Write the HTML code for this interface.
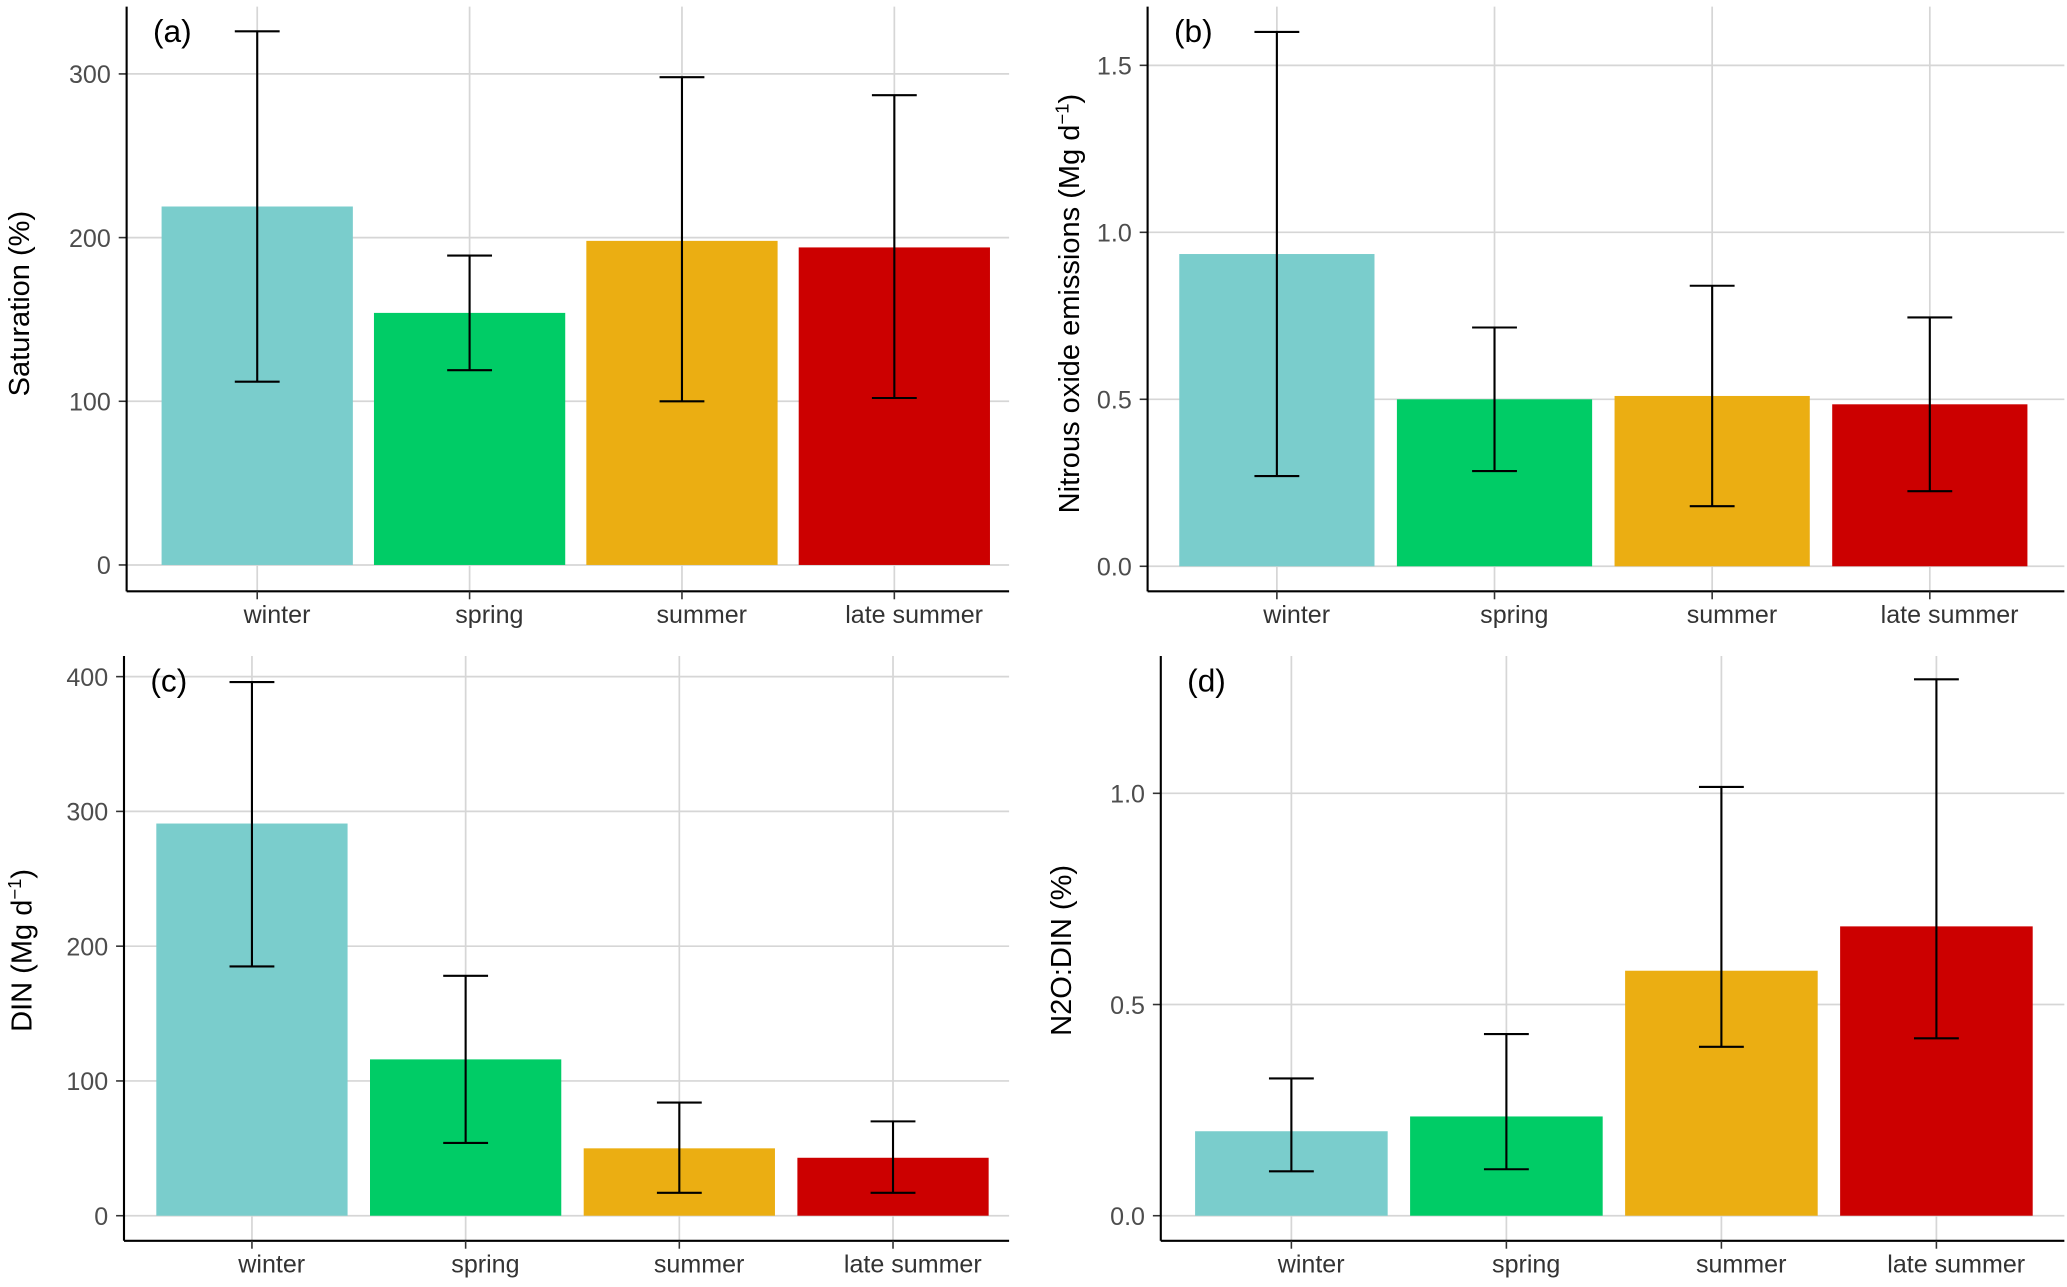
<!DOCTYPE html>
<html><head><meta charset="utf-8"><style>
html,body{margin:0;padding:0;background:#fff}
svg{display:block}
text{font-family:"Liberation Sans",sans-serif}
</style></head><body>
<svg id="chart" width="2067" height="1287" viewBox="0 0 1567 975" preserveAspectRatio="none" xmlns="http://www.w3.org/2000/svg"></svg>
<script>
const categories = ["winter","spring","summer","late summer"];
const colors = ["#7ACDCC","#00CC66","#EBAE12","#CC0000"];
const satMean = [219,154,198,194];
const satLo = [112,119,100,102];
const satHi = [326,189,298,287];
const n2oMean = [0.935,0.50,0.51,0.485];
const n2oLo = [0.27,0.285,0.18,0.225];
const n2oHi = [1.60,0.715,0.84,0.745];
const dinMean = [291,116,50,43];
const dinLo = [185,54,17,17];
const dinHi = [396,178,84,70];
const ratioMean = [0.20,0.235,0.58,0.685];
const ratioLo = [0.105,0.11,0.40,0.42];
const ratioHi = [0.325,0.43,1.015,1.27];
const satTicks = [0,100,200,300];
const n2oTicks = [0.0,0.5,1.0,1.5];
const dinTicks = [0,100,200,300,400];
const ratioTicks = [0.0,0.5,1.0];

const svg = document.getElementById('chart');
const NS = 'http://www.w3.org/2000/svg';
function mk(tag, attrs, parent){const e=document.createElementNS(NS,tag);for(const k in attrs)e.setAttribute(k,attrs[k]);parent.appendChild(e);return e;}

function panel(cfg){
  const g = mk('g',{},svg);
  
  
  const y = v => cfg.y0 - v * cfg.pxPerUnit;
  const bw = cfg.barW;
  const cx = i => cfg.firstCenter + i*cfg.step;
  cfg.ticks.forEach((t,i)=>{
    const l = mk('line',{x1:cfg.axisX,x2:cfg.right,y1:y(t),y2:y(t),stroke:'#d6d6d6','stroke-width':1.3},g);
    
    
    const tk = mk('line',{x1:cfg.axisX-6,x2:cfg.axisX,y1:y(t),y2:y(t),stroke:'#333','stroke-width':1.2},g);
    
    
    const tx = mk('text',{x:cfg.axisX-12,y:y(t)+7,'text-anchor':'end','font-size':19,fill:'#4d4d4d'},g);
    tx.textContent = cfg.tickLabels[i];
    
    
  });
  categories.forEach((c,i)=>{
    const l = mk('line',{x1:cx(i),x2:cx(i),y1:cfg.top,y2:cfg.axisY,stroke:'#d6d6d6','stroke-width':1.3},g);
    
    
  });
  categories.forEach((c,i)=>{
    const r = mk('rect',{x:cx(i)-bw/2,y:y(cfg.mean[i]),width:bw,height:y(0)-y(cfg.mean[i]),fill:colors[i]},g);
    
    
  });
  categories.forEach((c,i)=>{
    const eg = mk('g',{stroke:'#000','stroke-width':1.6},g);
    
    
    mk('line',{x1:cx(i),x2:cx(i),y1:y(cfg.lo[i]),y2:y(cfg.hi[i])},eg);
    mk('line',{x1:cx(i)-17,x2:cx(i)+17,y1:y(cfg.lo[i]),y2:y(cfg.lo[i])},eg);
    mk('line',{x1:cx(i)-17,x2:cx(i)+17,y1:y(cfg.hi[i]),y2:y(cfg.hi[i])},eg);
  });
  const ya = mk('line',{x1:cfg.axisX,x2:cfg.axisX,y1:cfg.top,y2:cfg.axisY,stroke:'#000','stroke-width':1.6},g);
  
  
  const xa = mk('line',{x1:cfg.axisX,x2:cfg.right,y1:cfg.axisY,y2:cfg.axisY,stroke:'#000','stroke-width':1.6},g);
  
  
  categories.forEach((c,i)=>{
    const tk = mk('line',{x1:cx(i),x2:cx(i),y1:cfg.axisY,y2:cfg.axisY+6,stroke:'#333','stroke-width':1.2},g);
    
    
    const tx = mk('text',{x:cx(i)+15,y:cfg.axisY+24,'text-anchor':'middle','font-size':19,fill:'#333'},g);
    tx.textContent = c;
    
    
  });
  const lab = mk('text',{x:cfg.axisX+20,y:cfg.top+27,'font-size':24,fill:'#000'},g);
  lab.textContent = cfg.label;
  
  
  const tt = mk('text',{x:0,y:0,'text-anchor':'middle','font-size':22,fill:'#000',transform:`translate(${cfg.titleX},${cfg.titleY}) rotate(-90)`},g);
  tt.innerHTML = cfg.title;
  
  
}

panel({name:'panel-a-saturation',label:'(a)',title:'Saturation (%)',axisX:96,right:765,top:5,axisY:448,y0:428,pxPerUnit:1.24,
  firstCenter:195,step:161,barW:145,ticks:satTicks,tickLabels:satTicks.map(String),mean:satMean,lo:satLo,hi:satHi,titleX:22,titleY:230});
panel({name:'panel-b-n2o-emissions',label:'(b)',title:'Nitrous oxide emissions (Mg d<tspan dy="-8" font-size="14">−1</tspan><tspan dy="8">)</tspan>',axisX:870,right:1565,top:5,axisY:448,y0:429,pxPerUnit:253,
  firstCenter:968,step:165,barW:148,ticks:n2oTicks,tickLabels:n2oTicks.map(v=>v.toFixed(1)),mean:n2oMean,lo:n2oLo,hi:n2oHi,titleX:818,titleY:230});
panel({name:'panel-c-din',label:'(c)',title:'DIN (Mg d<tspan dy="-8" font-size="14">−1</tspan><tspan dy="8">)</tspan>',axisX:94,right:765,top:497,axisY:940,y0:921,pxPerUnit:1.021,
  firstCenter:191,step:162,barW:145,ticks:dinTicks,tickLabels:dinTicks.map(String),mean:dinMean,lo:dinLo,hi:dinHi,titleX:24,titleY:720});
panel({name:'panel-d-n2o-din-ratio',label:'(d)',title:'N2O:DIN (%)',axisX:880,right:1565,top:497,axisY:940,y0:921,pxPerUnit:320,
  firstCenter:979,step:163,barW:146,ticks:ratioTicks,tickLabels:ratioTicks.map(v=>v.toFixed(1)),mean:ratioMean,lo:ratioLo,hi:ratioHi,titleX:812,titleY:720});
</script>
</body></html>
